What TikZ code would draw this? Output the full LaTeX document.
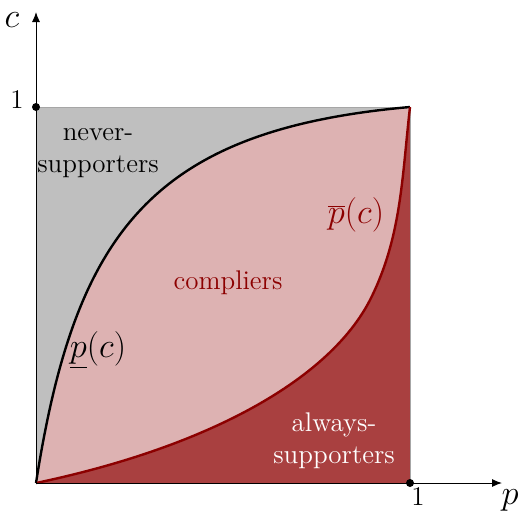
\documentclass[tikz,border=0pt]{standalone}
\usetikzlibrary{arrows.meta}
\begin{document}
\begin{tikzpicture}[x=0.5pt,y=0.5pt,
  lbl/.style={font=\fontsize{13.5}{16}\selectfont, align=center, inner sep=0pt},
  mlbl/.style={font=\fontsize{16.5}{19}\selectfont, inner sep=0pt},
  axis/.style={line width=0.5pt, -{Latex[length=5pt,width=4pt]}},
  dotm/.style={circle, fill=black, inner sep=0pt, minimum size=4pt}]
\useasboundingbox (0,0) rectangle (518,516);
\coordinate (O) at (36,33);
\coordinate (T) at (410,409);
\coordinate (TL) at (36,409);
\coordinate (BR) at (410,33);
\coordinate (Ctop) at (36,504);
\coordinate (Pend) at (502,33);
\def\uppercurve{(O) .. controls (75,282) and (150,386) .. (T)}
\def\lowercurve{(O) .. controls (212,70) and (330,138) .. (370,216)
   .. controls (401.6,278.4) and (402,339.5) .. (T)}
% regions
\fill[gray!50] (O) rectangle (T);
\fill[red!55!black!30] \uppercurve -- (BR) -- cycle;
\fill[red!55!black!75] \lowercurve -- (BR) -- cycle;
\draw[gray!70, line width=0.4pt] (O) rectangle (T);
% curves
\draw[black, line width=1.2pt] \uppercurve;
\draw[red!55!black, line width=1.2pt] \lowercurve;
% axes
\draw[axis] (O) -- (Ctop);
\draw[axis] (O) -- (Pend);
\node[dotm] (d1) at (TL) {};
\node[dotm] (d2) at (BR) {};
\node[mlbl] (cl) at (12,496) {$c$};
\node[mlbl] (pl) at (510,16) {$p$};
\node[lbl] (one1) at (17,416) {1};
\node[lbl] (one2) at (418,19) {1};
% labels
\node[lbl] (never) at (98,363) {never-\\supporters};
\node[lbl, text=red!55!black] (comp) at (228,233) {compliers};
\node[lbl, text=white] (always) at (334,75) {always-\\supporters};
\node[mlbl, text=red!55!black] (pbar) at (356,301) {$\overline{p}(c)$};
\node[mlbl] (punder) at (98,166) {$\underline{p}(c)$};
\end{tikzpicture}
\end{document}
